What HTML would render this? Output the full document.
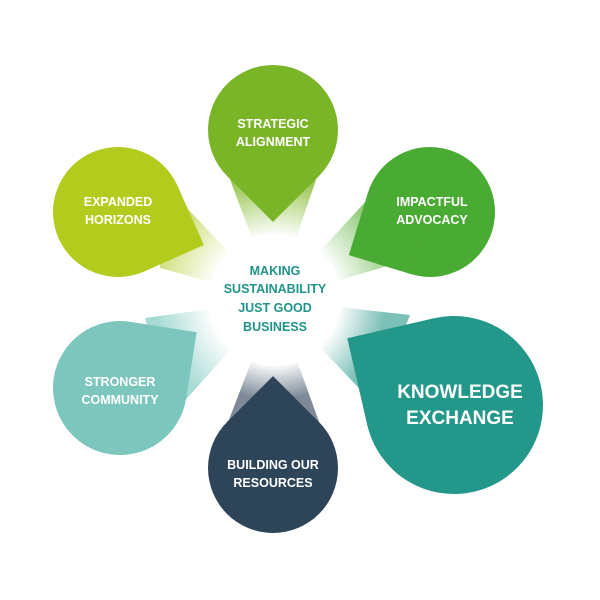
<!DOCTYPE html>
<html><head><style>body{margin:0;background:#fff}svg{display:block}text{font-family:"Liberation Sans",sans-serif;font-weight:bold;text-anchor:middle}</style></head><body>
<svg width="600" height="600" viewBox="0 0 600 600">
<defs>
<radialGradient id="b1" cx="275" cy="300" r="200" gradientUnits="userSpaceOnUse"><stop offset="0.32" stop-color="#fff"/><stop offset="0.6" stop-color="#9cc85a"/></radialGradient>
<radialGradient id="b2" cx="275" cy="300" r="200" gradientUnits="userSpaceOnUse"><stop offset="0.32" stop-color="#fff"/><stop offset="0.65" stop-color="#c8da6a"/></radialGradient>
<radialGradient id="b3" cx="275" cy="300" r="200" gradientUnits="userSpaceOnUse"><stop offset="0.32" stop-color="#fff"/><stop offset="0.65" stop-color="#86c670"/></radialGradient>
<radialGradient id="b4" cx="275" cy="300" r="200" gradientUnits="userSpaceOnUse"><stop offset="0.32" stop-color="#fff"/><stop offset="0.55" stop-color="#7dc0b8"/></radialGradient>
<radialGradient id="b5" cx="275" cy="300" r="200" gradientUnits="userSpaceOnUse"><stop offset="0.32" stop-color="#fff"/><stop offset="0.5" stop-color="#7e8a99"/></radialGradient>
<radialGradient id="b6" cx="275" cy="300" r="200" gradientUnits="userSpaceOnUse"><stop offset="0.32" stop-color="#fff"/><stop offset="0.6" stop-color="#a6dad4"/></radialGradient>
</defs>
<polygon points="275,300 228,174 318,174" fill="url(#b1)"/>
<polygon points="275,300 160,180 160,268" fill="url(#b2)"/>
<polygon points="275,300 390,175 400,262" fill="url(#b3)"/>
<polygon points="275,300 410,315 375,405" fill="url(#b4)"/>
<polygon points="275,300 225,430 322,430" fill="url(#b5)"/>
<polygon points="275,300 145,318 172,415" fill="url(#b6)"/>
<circle cx="275" cy="300" r="66" fill="#fff"/>
<g transform="translate(273,130) rotate(45)" fill="#7ab527"><circle r="65"/><rect width="65" height="65"/></g>
<g transform="translate(118,212) rotate(-24)" fill="#b3cb1c"><circle r="65"/><rect width="65" height="65"/></g>
<g transform="translate(430,212) rotate(107)" fill="#4aab34"><circle r="65"/><rect width="65" height="65"/></g>
<g transform="translate(454,405) rotate(-193)" fill="#23978a"><circle r="89"/><rect width="89" height="89"/></g>
<g transform="translate(273,468) rotate(-135)" fill="#2d4459"><circle r="65"/><rect width="65" height="65"/></g>
<g transform="translate(120,388) rotate(-81)" fill="#7cc6be"><circle r="67"/><rect width="67" height="67"/></g>
<g fill="#1f948a" font-size="12.5"><text x="275" y="275">MAKING</text><text x="275" y="293">SUSTAINABILITY</text><text x="275" y="312">JUST GOOD</text><text x="275" y="331">BUSINESS</text></g>
<g fill="#fff" font-size="12.5">
<text x="273" y="128">STRATEGIC</text><text x="273" y="146">ALIGNMENT</text>
<text x="118" y="206">EXPANDED</text><text x="118" y="224">HORIZONS</text>
<text x="432" y="206">IMPACTFUL</text><text x="432" y="224">ADVOCACY</text>
<text x="120" y="386">STRONGER</text><text x="120" y="404">COMMUNITY</text>
<text x="273" y="469">BUILDING OUR</text><text x="273" y="487">RESOURCES</text>
<text x="460" y="398" font-size="19">KNOWLEDGE</text><text x="460" y="424" font-size="19">EXCHANGE</text>
</g>
</svg>
</body></html>
